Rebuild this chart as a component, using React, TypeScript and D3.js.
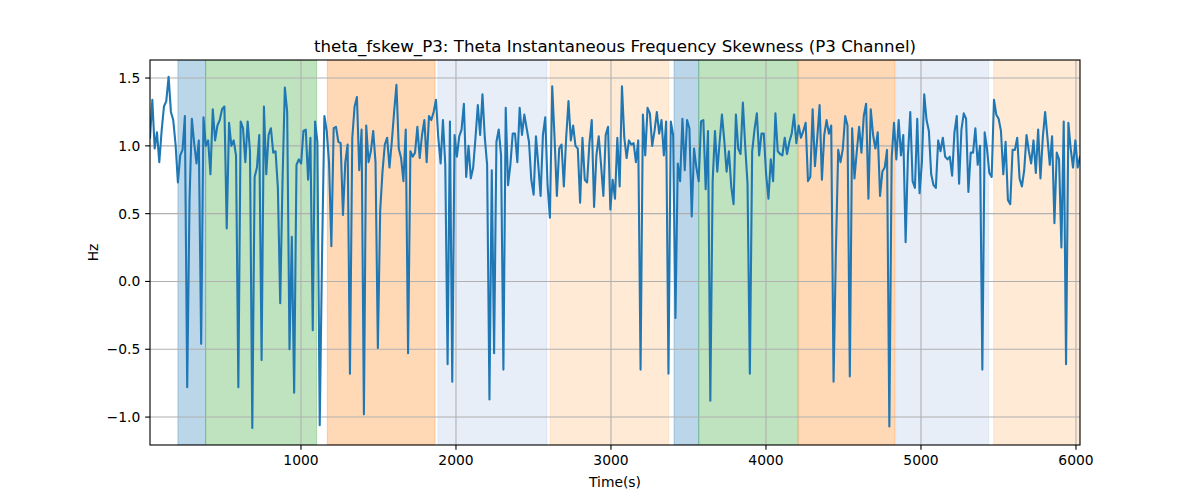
import React from "react";
import * as d3 from "d3";

const TITLE = "theta_fskew_P3: Theta Instantaneous Frequency Skewness (P3 Channel)";
const X_LABEL = "Time(s)";
const Y_LABEL = "Hz";
const T_START = 26;
const T_STEP = 15;
const X_DOMAIN = [26, 6026];
const Y_DOMAIN = [-1.206, 1.633];
const X_TICKS = [1000, 2000, 3000, 4000, 5000, 6000];
const Y_TICKS = [-1.0, -0.5, 0.0, 0.5, 1.0, 1.5];

const values = [
  1.06, 1.34, 0.98, 1.10, 0.88, 1.11, 1.29, 1.33, 1.51, 1.25,
  1.19, 1.01, 0.73, 0.93, 0.97, 1.22, -0.78, 0.6, 1.20, 1.02,
  0.87, 1.04, -0.46, 1.21, 1.00, 1.04, 0.79, 1.27, 1.04, 1.15,
  1.19, 1.27, 1.29, 0.39, 1.17, 1.00, 1.04, 0.93, -0.78, 1.18,
  1.13, 0.88, 1.18, 0.96, -1.08, 0.77, 0.84, 1.08, -0.58, 1.29,
  0.79, 1.08, 1.13, 0.95, 0.96, 0.69, -0.16, 0.74, 1.43, 1.25,
  -0.50, 0.33, -0.82, 0.86, 0.90, 0.87, 1.11, 1.12, 0.75, 1.06,
  -0.36, 1.18, 1.03, -1.06, 0.2, 1.22, 1.11, 0.88, 0.26, 1.13,
  1.14, 1.03, 1.02, 0.49, 0.88, 1.01, -0.68, 1.06, 1.29, 1.36,
  0.82, 1.12, -0.98, 1.15, 0.88, 0.96, 1.11, 0.88, -0.49, 0.52,
  0.81, 1.01, 1.06, 0.84, 1.03, 1.25, 1.45, 0.98, 0.91, 0.74,
  1.12, -0.53, 0.96, 0.92, 0.95, 1.14, 0.91, 1.08, 1.19, 0.88,
  1.22, 1.19, 1.25, 1.34, 1.06, 0.87, 1.19, 0.86, -0.61, 1.18,
  -0.74, 1.08, 0.92, 1.07, 1.12, 1.31, 0.77, 1.00, 0.76, 0.84,
  1.06, 1.30, 1.08, 1.38, 1.06, 0.86, -0.87, 0.82, -0.53, 1.03,
  1.12, 0.93, -0.65, 1.28, 0.71, 0.86, 1.09, 1.09, 0.88, 1.28,
  1.08, 1.23, 1.13, 1.03, 0.75, 0.64, 1.07, 0.86, 0.63, 1.08,
  1.21, 0.71, 0.47, 1.44, 1.06, 0.63, 0.98, 1.01, 0.70, 1.06,
  1.33, 1.04, 1.15, 1.00, 0.98, 0.58, 1.06, 0.75, 0.73, 1.02,
  1.19, 0.55, 0.93, 1.07, 0.86, 0.63, 1.08, 1.14, 0.53, 0.75,
  0.61, 1.06, 0.70, 1.44, 1.06, 0.91, 1.04, 1.01, 1.02, 0.88,
  1.04, -0.65, 1.23, 0.93, 1.28, 1.24, 1.00, 1.11, 1.25, 1.09,
  1.19, 0.93, 1.18, -0.68, 1.18, 1.08, -0.27, 0.87, 0.74, 1.20,
  0.82, 1.19, 1.13, 0.48, 0.98, 0.84, 0.74, 1.18, 1.19, 0.68,
  1.11, -0.88, 0.74, 1.11, 0.81, 1.03, 1.23, 1.04, 0.81, 0.96,
  0.70, 0.57, 1.23, 0.98, 0.94, 1.32, 1.00, 0.72, -0.68, 0.96,
  1.12, 1.24, 0.93, 1.09, 1.09, 0.79, 0.61, 0.90, 0.74, 1.24,
  0.96, 0.94, 0.93, 1.06, 0.94, 1.03, 1.09, 1.23, 1.02, 1.15,
  1.06, 1.11, 1.17, 0.74, 0.77, 1.27, 0.85, 1.06, 1.30, 0.75,
  1.08, 1.19, 1.09, 1.15, -0.74, 0.22, 0.97, 0.88, 0.98, 1.22,
  1.15, -0.70, 1.13, 0.76, 0.96, 1.14, 0.95, 1.22, 1.31, 0.61,
  1.27, 1.08, 0.98, 1.10, 0.63, 0.81, 0.84, 0.97, -1.07, 0.91,
  1.17, 0.90, 1.19, 0.93, 1.08, 0.29, 0.93, 1.25, 0.74, 0.69,
  1.20, 0.65, 0.88, 1.38, 1.19, 1.11, 0.79, 0.71, 0.69, 1.04,
  0.96, 1.06, 0.92, 0.90, 0.92, 0.78, 1.10, 1.22, 0.72, 1.12,
  1.24, 1.20, 0.66, 0.95, 0.95, 1.13, 0.86, 1.00, -0.65, 1.10,
  0.98, 0.80, 0.77, 1.34, 1.23, 1.20, 1.11, 0.79, 1.03, 0.60,
  0.57, 0.97, 0.97, 1.06, 0.76, 0.70, 0.82, 1.08, 0.96, 0.87,
  1.04, 0.80, 1.12, 0.76, 1.06, 1.25, 1.06, 0.86, 1.07, 0.43,
  0.95, 0.90, 0.25, 1.18, -0.61, 1.17, 0.98, 0.84, 1.04, 0.84,
  0.92,
];

const regionStarts = [206, 385, 1170, 1884, 2607, 3407, 3566, 4211, 4837, 5469];
const regionEnds = [385, 1101, 1865, 2587, 3372, 3566, 4207, 4832, 5437, 6026];
const regionColors = [
  "#1f77b4", "#2ca02c", "#ff7f0e", "#aec7e8", "#ffbb78",
  "#1f77b4", "#2ca02c", "#ff7f0e", "#aec7e8", "#ffbb78",
];

const W = 1200;
const H = 500;
const M = { left: 150, right: 1080, top: 60, bottom: 445 };
const FONT = "DejaVu Sans, sans-serif";
const PT = 100 / 72;

export default function App() {
  const x = d3.scaleLinear().domain(X_DOMAIN).range([M.left, M.right]);
  const y = d3.scaleLinear().domain(Y_DOMAIN).range([M.bottom, M.top]);
  const times = values.map((_, i) => T_START + i * T_STEP);
  const line = d3
    .line<number>()
    .x((_, i) => x(times[i]))
    .y((d) => y(d));

  return (
    <div style={{ position: "absolute", left: 0, top: 0 }}>
      <svg width={W} height={H} style={{ display: "block", background: "#fff" }}>
        <defs>
          <clipPath id="plotclip">
            <rect x={M.left} y={M.top} width={M.right - M.left} height={M.bottom - M.top} />
          </clipPath>
        </defs>
        <g clipPath="url(#plotclip)">
          {regionStarts.map((s, i) => (
            <rect
              key={i}
              x={x(s)}
              y={M.top}
              width={x(regionEnds[i]) - x(s)}
              height={M.bottom - M.top}
              fill={regionColors[i]}
              fillOpacity={0.3}
              stroke={regionColors[i]}
              strokeOpacity={0.3}
              strokeWidth={1}
            />
          ))}
          {X_TICKS.map((t) => (
            <line key={"gx" + t} x1={x(t)} x2={x(t)} y1={M.top} y2={M.bottom} stroke="#b0b0b0" strokeWidth={0.8 * PT} />
          ))}
          {Y_TICKS.map((t) => (
            <line key={"gy" + t} x1={M.left} x2={M.right} y1={y(t)} y2={y(t)} stroke="#b0b0b0" strokeWidth={0.8 * PT} />
          ))}
          <path d={line(values) || ""} fill="none" stroke="#1f77b4" strokeWidth={1.5 * PT} strokeLinejoin="round" strokeLinecap="square" />
        </g>
        <rect x={M.left} y={M.top} width={M.right - M.left} height={M.bottom - M.top} fill="none" stroke="#000" strokeWidth={0.8 * PT} />
        {X_TICKS.map((t) => (
          <g key={"tx" + t}>
            <line x1={x(t)} x2={x(t)} y1={M.bottom} y2={M.bottom + 3.5 * PT} stroke="#000" strokeWidth={0.8 * PT} />
            <text x={x(t)} y={M.bottom + 19.5} textAnchor="middle" fontFamily={FONT} fontSize={10 * PT} fill="#000">
              {t}
            </text>
          </g>
        ))}
        {Y_TICKS.map((t) => (
          <g key={"ty" + t}>
            <line x1={M.left - 3.5 * PT} x2={M.left} y1={y(t)} y2={y(t)} stroke="#000" strokeWidth={0.8 * PT} />
            <text x={M.left - 3.5 * PT - 3.5 * PT} y={y(t) + 5} textAnchor="end" fontFamily={FONT} fontSize={10 * PT} fill="#000">
              {t.toFixed(1).replace("-", "\u2212")}
            </text>
          </g>
        ))}
        <text x={(M.left + M.right) / 2} y={486.5} textAnchor="middle" fontFamily={FONT} fontSize={10 * PT} fill="#000">
          {X_LABEL}
        </text>
        <text
          transform={`translate(98, ${(M.top + M.bottom) / 2}) rotate(-90)`}
          textAnchor="middle"
          fontFamily={FONT}
          fontSize={10 * PT}
          fill="#000"
        >
          {Y_LABEL}
        </text>
        <text x={(M.left + M.right) / 2} y={52} textAnchor="middle" fontFamily={FONT} fontSize={12 * PT} fill="#000">
          {TITLE}
        </text>
      </svg>
    </div>
  );
}
